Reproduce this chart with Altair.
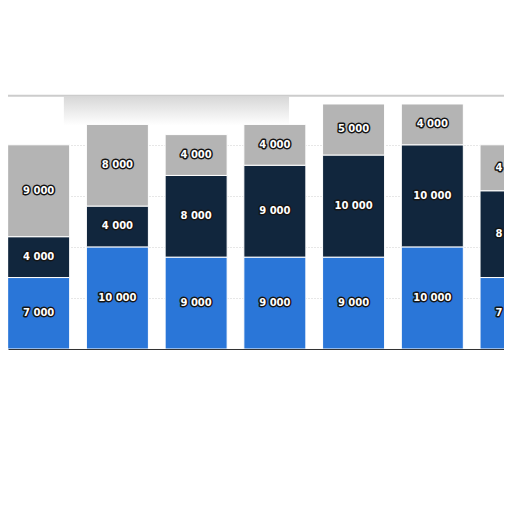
import altair as alt
import pandas as pd

# Data (bottom to top: blue, navy, gray)
positions = [1, 2, 3, 4, 5, 6, 7]
blue_vals = [7000, 10000, 9000, 9000, 9000, 10000, 7000]
navy_vals = [4000, 4000, 8000, 9000, 10000, 10000, 8500]
gray_vals = [9000, 8000, 4000, 4000, 5000, 4000, 4500]

series_names = ["blue", "navy", "gray"]
series_colors = ["#2a76d8", "#11263d", "#b4b4b4"]

# Decorative card edge / shadow seen at the top of the screenshot
card_edge_level = [24800]
shadow_x = [1.32, 4.18]
shadow_y = [24700, 21900]

rows = []
for i, p in enumerate(positions):
    for order, (name, vals) in enumerate(zip(series_names, [blue_vals, navy_vals, gray_vals])):
        rows.append({"idx": p, "series": name, "order": order, "value": vals[i]})
df = pd.DataFrame(rows)

x_scale = alt.Scale(domain=[0.674, 6.847], nice=False, zero=False)
y_scale = alt.Scale(domain=[0, 33400], nice=False)

shadow_df = pd.DataFrame({"x0": [shadow_x[0]], "x1": [shadow_x[1]],
                          "y0": [shadow_y[0]], "y1": [shadow_y[1]]})
edge_df = pd.DataFrame({"level": card_edge_level})

shadow = alt.Chart(shadow_df).mark_rect(
    clip=True,
    color=alt.Gradient(gradient="linear",
                       stops=[alt.GradientStop(color="#d8d8d8", offset=0),
                              alt.GradientStop(color="#ffffff", offset=1)],
                       x1=0, x2=0, y1=0, y2=1),
).encode(
    x=alt.X("x0:Q", scale=x_scale), x2="x1:Q",
    y=alt.Y("y0:Q", scale=y_scale), y2="y1:Q",
)

edge = alt.Chart(edge_df).mark_rule(color="#cccccc", strokeWidth=2, clip=True).encode(
    y=alt.Y("level:Q", scale=y_scale)
)

base = alt.Chart(df).transform_stack(
    stack="value", groupby=["idx"], sort=[alt.SortField("order")], as_=["y0", "y1"]
).transform_calculate(
    mid="(datum.y0 + datum.y1) / 2",
    label="replace(format(datum.value, ','), ',', ' ')",
)

x_enc = alt.X("idx:Q", scale=x_scale,
              axis=alt.Axis(labels=False, ticks=False, grid=False, title=None,
                            domainColor="#333333", domainWidth=1))

bars = base.mark_bar(size=62, stroke="white", strokeWidth=1, clip=True).encode(
    x=x_enc,
    y=alt.Y("y0:Q", scale=y_scale,
            axis=alt.Axis(labels=False, ticks=False, domain=False, title=None,
                          values=[5000, 10000, 15000, 20000],
                          gridColor="#cfcfcf", gridDash=[1, 2], gridWidth=1)),
    y2="y1:Q",
    color=alt.Color("series:N", scale=alt.Scale(domain=series_names, range=series_colors), legend=None),
)

halo = base.mark_text(font="DejaVu Sans", fontWeight="bold", fontSize=10,
                      color="#151515", stroke="#151515", strokeWidth=3,
                      strokeJoin="round", clip=True).encode(
    x=alt.X("idx:Q", scale=x_scale), y=alt.Y("mid:Q", scale=y_scale), text="label:N"
)

labels = base.mark_text(font="DejaVu Sans", fontWeight="bold", fontSize=10,
                        color="white", clip=True).encode(
    x=alt.X("idx:Q", scale=x_scale), y=alt.Y("mid:Q", scale=y_scale), text="label:N"
)

chart = alt.layer(shadow, edge, bars, halo, labels).properties(
    width=496, height=341, autosize="none",
    padding={"left": 0, "top": 0, "right": 0, "bottom": 10},
    background="white",
).configure_view(stroke=None)

chart.save("out.html", embed_options={"renderer": "svg", "actions": False})
